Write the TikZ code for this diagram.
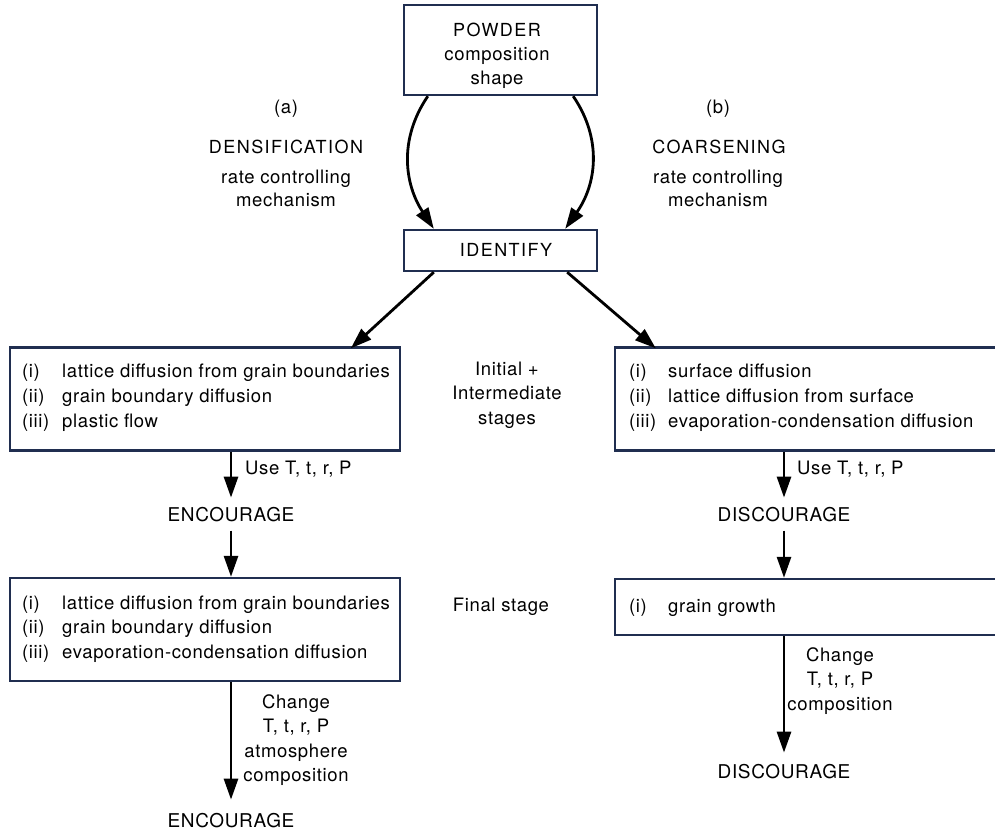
\documentclass[tikz,border=0pt]{standalone}
\usepackage{fontspec}
\setmainfont{TeX Gyre Heros}[LetterSpace=3.4]
\newfontfamily\capsfont{TeX Gyre Heros}[LetterSpace=8]
\usetikzlibrary{arrows.meta}
\definecolor{boxc}{RGB}{32,46,80}
\newcommand{\fsz}{\fontsize{18.5}{24.5}\selectfont}
\newcommand{\fcaps}{\capsfont\fontsize{18}{24.5}\selectfont}
\newcommand{\fbig}{\fontsize{19}{24.5}\selectfont}
\begin{document}
\begin{tikzpicture}[x=1pt,y=-1pt,
  box/.style={draw=boxc, line width=2.4pt, inner sep=0pt, minimum width=#1},
  box/.default=193pt,
  arr/.style={line width=2.8pt, -{Triangle[length=21pt,width=14pt]}},
  lbl/.style={inner sep=0pt, font=\fsz, anchor=base},
  caps/.style={inner sep=0pt, font=\fcaps, anchor=base},
  big/.style={inner sep=0pt, font=\fbig, anchor=base},
  lblw/.style={inner sep=0pt, font=\fsz, anchor=base west},
  mline/.style={inner sep=0pt, font=\fsz, align=center}]
\clip (0,0) rectangle (995,837);
\useasboundingbox (0,0) rectangle (995,837);
% top boxes
\node[box, minimum height=90pt] (pw) at (500.5,50) {};
\node[caps] (pw1) at (497,37) {POWDER};
\node[lbl] (pw2) at (497,61) {composition};
\node[lbl] (pw3) at (497,85) {shape};
\node[box, minimum height=41pt] (id) at (500.5,250.5) {};
\node[caps] (idt) at (506,256) {IDENTIFY};
% side texts
\node[lbl] (a) at (286,114) {(a)};
\node[caps] (a1) at (286,154) {DENSIFICATION};
\node[lbl] (a2) at (286,183) {rate controlling};
\node[lbl] (a3) at (286,207) {mechanism};
\node[lbl] (b) at (718,114) {(b)};
\node[caps] (b1) at (719,154) {COARSENING};
\node[lbl] (b2) at (718,183) {rate controlling};
\node[lbl] (b3) at (718,207) {mechanism};
% curved arrows
\draw[arr] ([xshift=25pt]pw.south west) .. controls (398,140) and (405,185) .. ([xshift=31pt]id.north west);
\draw[arr] ([xshift=-25pt]pw.south east) .. controls (603,140) and (596,185) .. ([xshift=-33pt]id.north east);
% level 1 boxes
\node[box=390pt, minimum height=103pt] (lb1) at (205,399) {};
\node[box=395pt, minimum height=103pt] (rb1) at (812.5,399) {};
\draw[arr] ([xshift=31pt]id.south west) -- ([xshift=342pt,yshift=-2pt]lb1.north west);
\draw[arr] ([xshift=-31pt]id.south east) -- ([xshift=42pt,yshift=-2pt]rb1.north west);
\node[lblw] (l11a) at (22,377) {(i)};
\node[lblw] (l11b) at (62,377) {lattice diffusion from grain boundaries};
\node[lblw] (l12a) at (22,402) {(ii)};
\node[lblw] (l12b) at (62,402) {grain boundary diffusion};
\node[lblw] (l13a) at (22,427) {(iii)};
\node[lblw] (l13b) at (62,427) {plastic flow};
\node[lblw] (r11a) at (629,377) {(i)};
\node[lblw] (r11b) at (668,377) {surface diffusion};
\node[lblw] (r12a) at (629,402) {(ii)};
\node[lblw] (r12b) at (668,402) {lattice diffusion from surface};
\node[lblw] (r13a) at (629,427) {(iii)};
\node[lblw] (r13b) at (668,427) {evaporation-condensation diffusion};
\node[mline] (mid1) at (507,395) {Initial +\\Intermediate\\stages};
% encourage / discourage
\node[big] (enc1) at (231,521) {ENCOURAGE};
\node[big] (dis1) at (784,521) {DISCOURAGE};
\draw[arr, shorten >=9pt] (lb1.south -| enc1.base) -- (enc1.north);
\draw[arr, shorten >=9pt] (rb1.south -| dis1.base) -- (dis1.north);
\node[lblw] (use1) at (245,474) {Use T, t, r, P};
\node[lblw] (use2) at (797,474) {Use T, t, r, P};
% level 2 boxes
\node[box=390pt, minimum height=103pt] (lb2) at (205,629.5) {};
\node[box=395pt, minimum height=56pt] (rb2) at (812.5,607) {};
\draw[arr, shorten <=9pt] (enc1.south) -- (enc1.south |- lb2.north);
\draw[arr, shorten <=9pt] (dis1.south) -- (dis1.south |- rb2.north);
\node[lblw] (l21a) at (22,609) {(i)};
\node[lblw] (l21b) at (62,609) {lattice diffusion from grain boundaries};
\node[lblw] (l22a) at (22,633) {(ii)};
\node[lblw] (l22b) at (62,633) {grain boundary diffusion};
\node[lblw] (l23a) at (22,658) {(iii)};
\node[lblw] (l23b) at (62,658) {evaporation-condensation diffusion};
\node[lblw] (r21a) at (629,612) {(i)};
\node[lblw] (r21b) at (668,612) {grain growth};
\node[lbl] (fin) at (501,611) {Final stage};
% bottom
\node[big] (enc2) at (231,827) {ENCOURAGE};
\node[big] (dis2) at (784,778) {DISCOURAGE};
\draw[arr, shorten >=13pt] (lb2.south -| enc2.base) -- (enc2.north);
\draw[arr, shorten >=11pt] (rb2.south -| dis2.base) -- (dis2.north);
\node[mline] (ch1) at (296,740) {Change\\T, t, r, P\\atmosphere\\composition};
\node[mline] (ch2) at (840,681) {Change\\T, t, r, P\\composition};
\end{tikzpicture}
\end{document}
